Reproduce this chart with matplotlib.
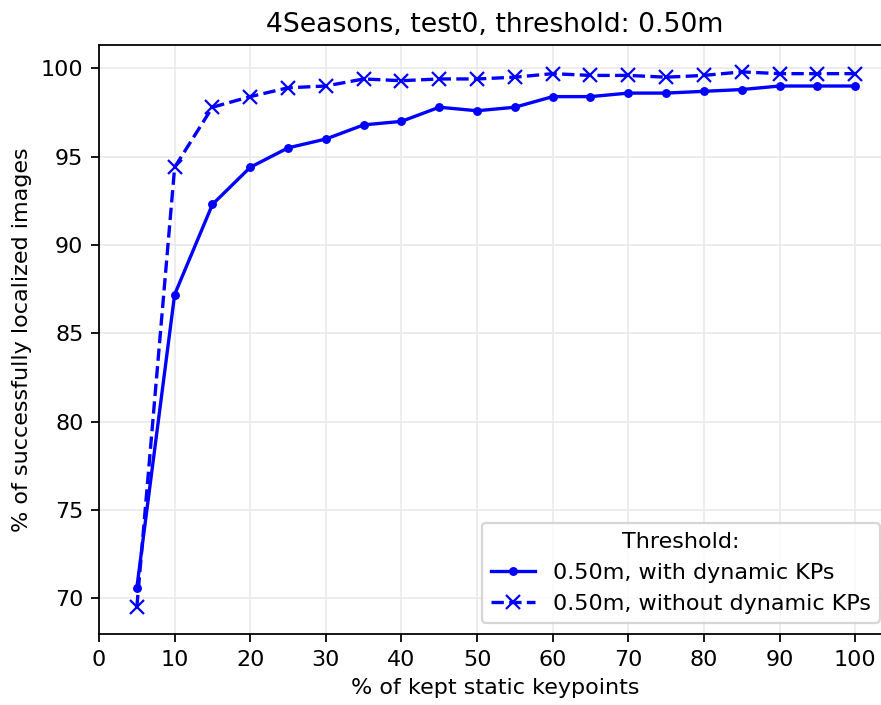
import matplotlib
matplotlib.use("Agg")
import matplotlib.pyplot as plt

# kept static keypoints (%) vs successfully localized images (%)
kept = [5, 10, 15, 20, 25, 30, 35, 40, 45, 50, 55, 60, 65, 70, 75, 80, 85, 90, 95, 100]
with_dyn = [70.6, 87.2, 92.3, 94.4, 95.5, 96.0, 96.8, 97.0, 97.8, 97.6,
            97.8, 98.4, 98.4, 98.6, 98.6, 98.7, 98.8, 99.0, 99.0, 99.0]
without_dyn = [69.5, 94.4, 97.8, 98.4, 98.9, 99.0, 99.4, 99.3, 99.4, 99.4,
               99.5, 99.7, 99.6, 99.6, 99.5, 99.6, 99.8, 99.7, 99.7, 99.7]
x_ticks = list(range(0, 101, 10))

DPI = 160
fig, ax = plt.subplots(figsize=(881 / DPI, 705 / DPI), dpi=DPI)
fig.subplots_adjust(left=0.1124, right=1.0114, top=0.936, bottom=0.1007)

ax.plot(kept, with_dyn, ".-", color="blue", label="0.50m, with dynamic KPs")
ax.plot(kept, without_dyn, "x--", color="blue", label="0.50m, without dynamic KPs")

ax.grid(True, color="#ebebeb", linewidth=0.8)
ax.set_axisbelow(True)
ax.set_xticks(x_ticks)
ax.set_xlim(left=0)
ax.set_xlabel("% of kept static keypoints")
ax.set_ylabel("% of successfully localized images")
ax.set_title("4Seasons, test0, threshold: 0.50m")
ax.legend(title="Threshold:", loc="lower right")

fig.savefig("out.png", dpi=DPI)
